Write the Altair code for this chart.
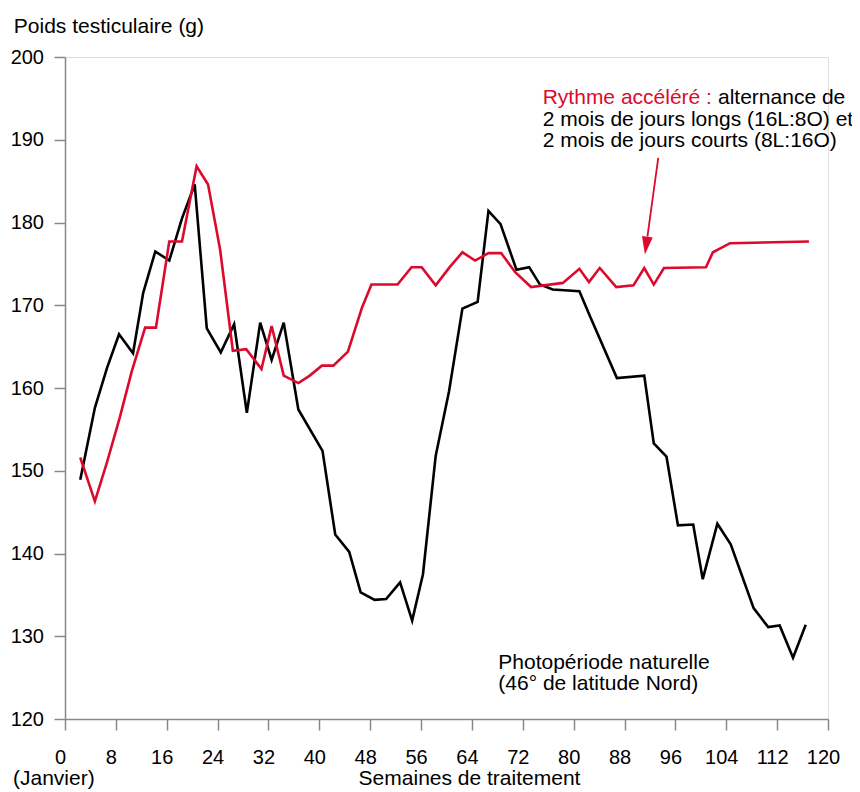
import altair as alt
import pandas as pd

# Photopériode naturelle (black)
weeks_nat = [2.4, 4.7, 6.6, 8.5, 10.7, 12.3, 14.2, 16.4, 18.4, 20.4, 22.3, 24.5, 26.6, 28.6,
             30.7, 32.5, 34.4, 36.7, 40.5, 42.5, 44.7, 46.5, 48.7, 50.5, 52.7, 54.6, 56.3,
             58.3, 60.4, 62.5, 64.9, 66.6, 68.5, 71.0, 73.0, 74.7, 76.7, 80.9, 82.5, 86.8,
             91.1, 92.6, 94.6, 96.4, 98.8, 100.3, 102.6, 104.7, 108.3, 110.6, 112.4, 114.5, 116.5]
vals_nat = [148.9, 157.6, 162.4, 166.5, 164.2, 171.5, 176.5, 175.4, 180.5, 184.6, 167.2, 164.3,
            167.7, 157.0, 167.9, 163.4, 167.9, 157.4, 152.4, 142.3, 140.2, 135.3, 134.4, 134.5,
            136.5, 131.9, 137.5, 151.8, 159.6, 169.6, 170.4, 181.4, 179.8, 174.3, 174.6, 172.5,
            171.9, 171.7, 168.8, 161.2, 161.5, 153.3, 151.7, 143.4, 143.5, 136.9, 143.6, 141.1,
            133.4, 131.1, 131.3, 127.4, 131.4]

# Rythme accéléré (red)
weeks_acc = [2.4, 4.7, 6.6, 8.6, 10.5, 12.6, 14.3, 16.4, 18.4, 20.7, 22.5, 24.4, 26.4, 28.5,
             30.9, 32.5, 34.4, 36.7, 38.5, 40.4, 42.2, 44.5, 46.7, 48.2, 52.3, 54.5, 56.1,
             58.3, 60.5, 62.5, 64.5, 66.6, 68.6, 70.8, 73.3, 78.3, 80.9, 82.4, 84.1, 86.7,
             89.4, 91.1, 92.6, 94.2, 100.8, 101.9, 104.6, 117.0]
vals_acc = [151.6, 146.3, 151.0, 156.4, 162.0, 167.3, 167.3, 177.7, 177.7, 186.8, 184.6, 176.7,
            164.5, 164.7, 162.3, 167.5, 161.5, 160.6, 161.5, 162.7, 162.7, 164.4, 169.7, 172.5,
            172.5, 174.6, 174.6, 172.4, 174.6, 176.4, 175.4, 176.3, 176.3, 174.0, 172.2, 172.7,
            174.4, 172.8, 174.5, 172.2, 172.4, 174.5, 172.5, 174.5, 174.6, 176.4, 177.5, 177.7]

x_ticks = list(range(0, 121, 8))
y_ticks = list(range(120, 201, 10))

# Arrow (data coordinates)
arrow_weeks = [93.3, 91.6]
arrow_vals = [187.8, 178.3]
head_week = [91.4]
head_val = [177.2]

RED = "#dc0a2d"
FONT = "Liberation Sans"
W, H = 763, 662

df = pd.concat([
    pd.DataFrame({"week": weeks_nat, "value": vals_nat, "series": "nat"}),
    pd.DataFrame({"week": weeks_acc, "value": vals_acc, "series": "acc"}),
])

x_scale = alt.Scale(domain=[0, 120], nice=False, zero=False)
y_scale = alt.Scale(domain=[120, 200], nice=False, zero=False)

x_axis = alt.Axis(values=x_ticks, title="Semaines de traitement", grid=False,
                  tickSize=11, tickWidth=1.5, domainWidth=1.5,
                  labelPadding=17, labelFontSize=20, labelFlush=False, labelOverlap=False,
                  labelOffset=-5,
                  titleFontSize=21, titleFontWeight="normal",
                  titleX=404, titleY=65.5, titleAlign="center", titleBaseline="alphabetic")
y_axis = alt.Axis(values=y_ticks, title="Poids testiculaire (g)", grid=False,
                  tickSize=11, tickWidth=1.5, domainWidth=1.5,
                  labelPadding=10.5, labelFontSize=20, labelOverlap=False, labelFlush=False,
                  titleFontSize=21, titleFontWeight="normal", titleAngle=0,
                  titleX=-51.7, titleY=-25, titleAlign="left", titleBaseline="alphabetic")

base = alt.Chart(df)

black = base.transform_filter(alt.datum.series == "nat").mark_line(
    color="black", strokeWidth=2.6, strokeJoin="miter"
).encode(
    x=alt.X("week:Q", scale=x_scale, axis=x_axis),
    y=alt.Y("value:Q", scale=y_scale, axis=y_axis),
)

red = base.transform_filter(alt.datum.series == "acc").mark_line(
    color=RED, strokeWidth=2.6, strokeJoin="miter"
).encode(
    x=alt.X("week:Q", scale=x_scale),
    y=alt.Y("value:Q", scale=y_scale),
)

arrow_df = pd.DataFrame({"w1": [arrow_weeks[0]], "v1": [arrow_vals[0]],
                         "w2": [arrow_weeks[1]], "v2": [arrow_vals[1]]})
shaft = alt.Chart(arrow_df).mark_rule(color=RED, strokeWidth=1.8).encode(
    x=alt.X("w1:Q", scale=x_scale), y=alt.Y("v1:Q", scale=y_scale),
    x2="w2:Q", y2="v2:Q",
)
head = alt.Chart(pd.DataFrame({"w": head_week, "v": head_val})).mark_point(
    shape="M -0.6 -1 L 0.6 -1 L 0 1 Z", size=324, filled=True,
    color=RED, opacity=1, angle=7.8, strokeWidth=0,
).encode(x=alt.X("w:Q", scale=x_scale), y=alt.Y("v:Q", scale=y_scale))

one = pd.DataFrame({"a": [0]})


def txt(s, x, y, color="black", size=21):
    return alt.Chart(one).mark_text(
        align="left", baseline="alphabetic", font=FONT, fontSize=size, color=color
    ).encode(x=alt.value(x), y=alt.value(y), text=alt.value(s))


texts = [
    txt("Rythme accéléré :", 477.7, 46.5, RED),
    txt("alternance de", 653, 46.5),
    txt("2 mois de jours longs (16L:8O) et", 477.7, 68.5),
    txt("2 mois de jours courts (8L:16O)", 477.7, 90),
    txt("Photopériode naturelle", 433.3, 611.5),
    txt("(46° de latitude Nord)", 433.3, 632.5),
    txt("(Janvier)", -52, 727.5),
]

chart = alt.layer(black, red, shaft, head, *texts).properties(
    width=W, height=H,
    autosize=alt.AutoSizeParams(type="none"),
    padding={"left": 57, "top": 49, "right": 24, "bottom": 72},
).configure_view(strokeWidth=0).configure_axis(
    labelFont=FONT, titleFont=FONT, labelColor="black", titleColor="black",
    domainColor="black", tickColor="black",
).configure(background="white")

chart.save("out.html", embed_options={"renderer": "svg", "actions": False})
